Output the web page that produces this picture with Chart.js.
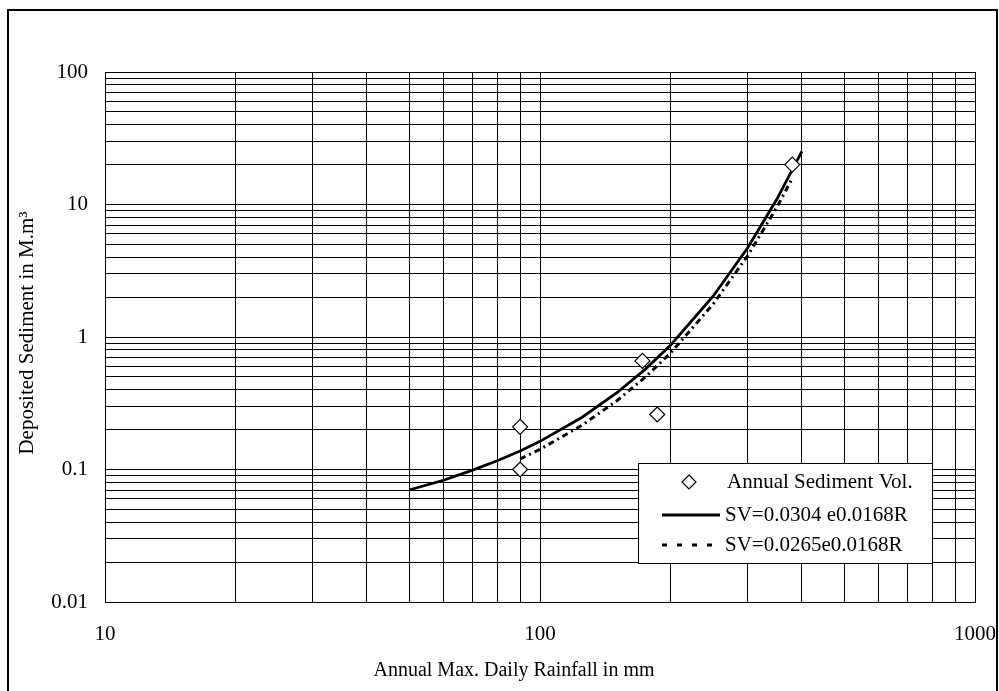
<!DOCTYPE html>
<html>
<head>
<meta charset="utf-8">
<script src="https://cdn.jsdelivr.net/npm/chart.js@4/dist/chart.umd.min.js"></script>
<style>
  html, body { margin: 0; padding: 0; background: #fff; }
  #wrap { width: 999px; height: 691px; position: relative; }
  canvas { display: block; }
</style>
</head>
<body>
<div id="wrap"><canvas id="c" width="999" height="691"></canvas></div>
<script>
// Observed annual sediment volumes vs. annual max daily rainfall
const rainfallObs = [90, 90, 172, 186, 380];
const sedimentObs = [0.21, 0.10, 0.66, 0.26, 20];

// Fitted curve SV = 0.0304 e^(0.0168R)
const rainfallFitA = [50, 60, 70, 80, 90, 100, 125, 150, 175, 200, 250, 300, 350, 400];
const sedimentFitA = [0.070, 0.083, 0.099, 0.117, 0.138, 0.163, 0.248, 0.378, 0.575, 0.875, 2.03, 4.70, 10.9, 25.2];

// Fitted curve SV = 0.0265 e^(0.0168R)
const rainfallFitB = [90, 100, 125, 150, 175, 200, 250, 300, 350, 380];
const sedimentFitB = [0.120, 0.142, 0.216, 0.329, 0.501, 0.763, 1.77, 4.09, 9.48, 15.7];

const seriesNames = ['Annual Sediment Vol.', 'SV=0.0304 e0.0168R', 'SV=0.0265e0.0168R'];
const xDecadeLabels = ['10', '100', '1000'];
const yDecadeLabels = ['0.01', '0.1', '1', '10', '100'];
const xTitle = 'Annual Max. Daily Rainfall in mm';
const yTitle = 'Deposited Sediment in M.m\u00B3';

const FONT = "'Liberation Serif', 'Times New Roman', serif";

// Log-cycle grid: 1..9 within every decade spanned by the labelled decades
function logGridValues(decades) {
  const vals = [];
  const d = decades.map(Number);
  for (let i = 0; i < d.length - 1; i++) {
    for (let k = 1; k <= 9; k++) vals.push(+(d[i] * k).toPrecision(3));
  }
  vals.push(d[d.length - 1]);
  return vals;
}
const xGrid = logGridValues(xDecadeLabels);
const yGrid = logGridValues(yDecadeLabels);

function toPoints(xs, ys) { return xs.map((x, i) => ({ x: x, y: ys[i] })); }

// Outer frame and axis titles
const framePlugin = {
  id: 'frame',
  afterDraw(chart) {
    const ctx = chart.ctx;
    ctx.save();
    ctx.strokeStyle = '#000';
    ctx.lineWidth = 2;
    ctx.strokeRect(8, 10, 989, 700);

    ctx.fillStyle = '#000';
    ctx.textAlign = 'center';
    ctx.textBaseline = 'middle';
    ctx.font = '20px ' + FONT;
    ctx.fillText(xTitle, 514, 671);

    ctx.translate(27, 333);
    ctx.rotate(-Math.PI / 2);
    ctx.font = '21px ' + FONT;
    ctx.fillText(yTitle, 0, 0);
    ctx.restore();
  }
};

// Boxed legend placed inside the plotting area
const boxLegend = {
  id: 'boxLegend',
  afterDatasetsDraw(chart) {
    const ctx = chart.ctx;
    const ds = chart.data.datasets;
    const bx = 638, by = 463, bw = 294, bh = 100;
    ctx.save();
    ctx.fillStyle = '#fff';
    ctx.fillRect(bx, by, bw, bh);
    ctx.strokeStyle = '#000';
    ctx.lineWidth = 1;
    ctx.strokeRect(bx + 0.5, by + 0.5, bw, bh);

    const rows = [482, 515, 545];
    ctx.font = '21px ' + FONT;
    ctx.fillStyle = '#000';
    ctx.textBaseline = 'middle';
    ctx.textAlign = 'left';

    // marker row
    const r = 7, cx = 689;
    ctx.beginPath();
    ctx.moveTo(cx, rows[0] - r);
    ctx.lineTo(cx + r, rows[0]);
    ctx.lineTo(cx, rows[0] + r);
    ctx.lineTo(cx - r, rows[0]);
    ctx.closePath();
    ctx.fillStyle = '#fff';
    ctx.fill();
    ctx.lineWidth = ds[0].borderWidth;
    ctx.strokeStyle = '#000';
    ctx.stroke();
    ctx.fillStyle = '#000';
    ctx.fillText(ds[0].label, 727, rows[0]);

    // solid line row
    ctx.beginPath();
    ctx.lineWidth = 3;
    ctx.moveTo(662, rows[1]);
    ctx.lineTo(720, rows[1]);
    ctx.stroke();
    ctx.fillText(ds[1].label, 725, rows[1]);

    // dashed line row
    ctx.beginPath();
    ctx.setLineDash([5, 10]);
    ctx.lineWidth = 3;
    ctx.moveTo(662, rows[2]);
    ctx.lineTo(720, rows[2]);
    ctx.stroke();
    ctx.setLineDash([]);
    ctx.fillText(ds[2].label, 725, rows[2]);
    ctx.restore();
  }
};

const ctx = document.getElementById('c').getContext('2d');
new Chart(ctx, {
  type: 'scatter',
  data: {
    datasets: [
      {
        label: seriesNames[0],
        data: toPoints(rainfallObs, sedimentObs),
        showLine: false,
        pointStyle: 'rectRot',
        pointRadius: 7.5,
        pointBackgroundColor: '#fff',
        pointBorderColor: '#000',
        borderColor: '#000',
        borderWidth: 1.2,
        pointBorderWidth: 1.2
      },
      {
        label: seriesNames[1],
        data: toPoints(rainfallFitA, sedimentFitA),
        showLine: true,
        borderColor: '#000',
        borderWidth: 2.8,
        pointRadius: 0,
        tension: 0
      },
      {
        label: seriesNames[2],
        data: toPoints(rainfallFitB, sedimentFitB),
        showLine: true,
        borderColor: '#000',
        borderWidth: 3,
        borderDash: [6, 4, 2, 4],
        pointRadius: 0,
        tension: 0
      }
    ]
  },
  options: {
    responsive: false,
    animation: false,
    devicePixelRatio: 1,
    layout: { padding: { left: 0, top: 72, right: 24, bottom: 0 } },
    plugins: { legend: { display: false }, tooltip: { enabled: false } },
    scales: {
      x: {
        type: 'logarithmic',
        min: 10, max: 1000,
        afterBuildTicks(scale) { scale.ticks = xGrid.map(v => ({ value: v })); },
        afterFit(scale) { scale.height = 89; scale.paddingLeft = 0; scale.paddingRight = 0; },
        grid: { color: '#000', lineWidth: 1, drawTicks: false, tickLength: 0 },
        border: { display: true, color: '#000', width: 1 },
        ticks: {
          autoSkip: false, maxRotation: 0, padding: 20,
          color: '#000',
          font: { family: FONT, size: 21, lineHeight: 1.2 },
          callback(v) { const s = String(v); return xDecadeLabels.includes(s) ? s : ''; }
        },
        title: { display: false }
      },
      y: {
        type: 'logarithmic',
        min: 0.01, max: 100,
        afterBuildTicks(scale) { scale.ticks = yGrid.map(v => ({ value: v })); },
        afterFit(scale) { scale.width = 105; scale.paddingTop = 0; scale.paddingBottom = 0; },
        grid: { color: '#000', lineWidth: 1, drawTicks: false, tickLength: 0 },
        border: { display: true, color: '#000', width: 1 },
        ticks: {
          autoSkip: false, padding: 17,
          color: '#000',
          font: { family: FONT, size: 21, lineHeight: 1.2 },
          callback(v) { const s = String(v); return yDecadeLabels.includes(s) ? s : ''; }
        },
        title: { display: false }
      }
    }
  },
  plugins: [boxLegend, framePlugin]
});
</script>
</body>
</html>
